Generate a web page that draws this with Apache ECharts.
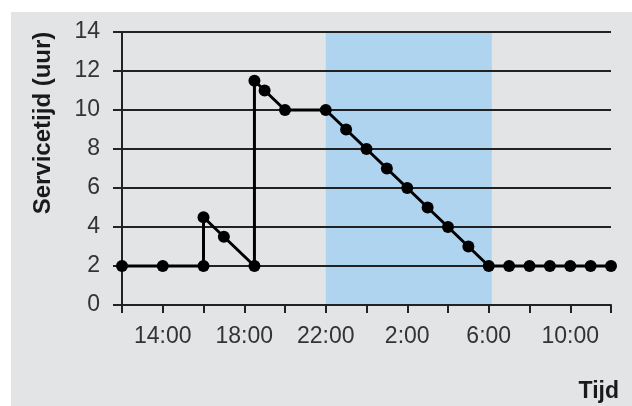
<!DOCTYPE html>
<html>
<head>
<meta charset="utf-8">
<script src="https://cdn.jsdelivr.net/npm/echarts@6/dist/echarts.min.js"></script>
<style>html,body{margin:0;padding:0;background:#fff}#c{width:632px;height:406px}</style>
</head>
<body>
<div id="c"></div>
<script>
// hours since 12:00 of day 1 (12 = 12:00, 24 = 0:00, 36 = 12:00 next day)
const times = [12, 14, 16, 16, 17, 18.5, 18.5, 19, 20, 22, 23, 24, 25, 26, 27, 28, 29, 30, 31, 32, 33, 34, 35, 36];
const serviceTime = [2, 2, 2, 4.5, 3.5, 2, 11.5, 11, 10, 10, 9, 8, 7, 6, 5, 4, 3, 2, 2, 2, 2, 2, 2, 2];
const nightBand = [22, 30.15];
const yTicks = [0, 2, 4, 6, 8, 10, 12, 14];
const xLabelHours = [14, 18, 22, 26, 30, 34];
const yName = 'Servicetijd (uur)';
const xName = 'Tijd';

const chart = echarts.init(document.getElementById('c'), null, {renderer: 'canvas'});
const font = 'Liberation Sans, Arial, sans-serif';
chart.setOption({
  backgroundColor: '#ffffff',
  animation: false,
  graphic: [
    {type: 'rect', z: -100, silent: true, shape: {x: 11, y: 12, width: 621, height: 394}, style: {fill: '#e3e4e6'}},
    {type: 'text', z: 100, x: 43, y: 123, rotation: Math.PI / 2, scaleX: 1.0, scaleY: 1.0,
      style: {text: yName, fill: '#1a1a1a', font: 'bold 24px ' + font, align: 'center', verticalAlign: 'middle'}},
    {type: 'text', z: 100, x: 619, y: 392,
      style: {text: xName, fill: '#1a1a1a', font: 'bold 23px ' + font, align: 'right', verticalAlign: 'middle'}}
  ],
  grid: {left: 122, right: 21, top: 32, bottom: 101, containLabel: false},
  xAxis: {
    type: 'value', min: 12, max: 36, interval: 2, z: 2,
    axisLine: {show: true, onZero: false, lineStyle: {color: '#222', width: 2}},
    axisTick: {show: true, length: 8, lineStyle: {color: '#222', width: 2}},
    splitLine: {show: false},
    axisLabel: {
      margin: 20, color: '#333', fontSize: 23, fontFamily: font,
      formatter: v => xLabelHours.indexOf(v) >= 0 ? (v % 24) + ':00' : ''
    }
  },
  yAxis: {
    type: 'value', min: 0, max: 14, interval: 2, z: 2,
    axisLine: {show: true, lineStyle: {color: '#222', width: 2}},
    axisTick: {show: true, length: 9, lineStyle: {color: '#222', width: 2}},
    splitLine: {show: true, lineStyle: {color: '#222', width: 2}},
    axisLabel: {margin: 22, color: '#333', fontSize: 23, fontFamily: font,
      formatter: v => yTicks.indexOf(v) >= 0 ? String(v) : ''}
  },
  series: [
    {
      type: 'line', z: 1, data: [], silent: true,
      markArea: {silent: true, itemStyle: {color: '#aed4f0', opacity: 1},
        data: [[{xAxis: nightBand[0]}, {xAxis: nightBand[1]}]]}
    },
    {
      type: 'line', z: 3,
      data: times.map((t, i) => [t, serviceTime[i]]),
      symbol: 'circle', symbolSize: 12, showAllSymbol: true,
      lineStyle: {color: '#000', width: 3},
      itemStyle: {color: '#000'}
    }
  ]
});
</script>
</body>
</html>
